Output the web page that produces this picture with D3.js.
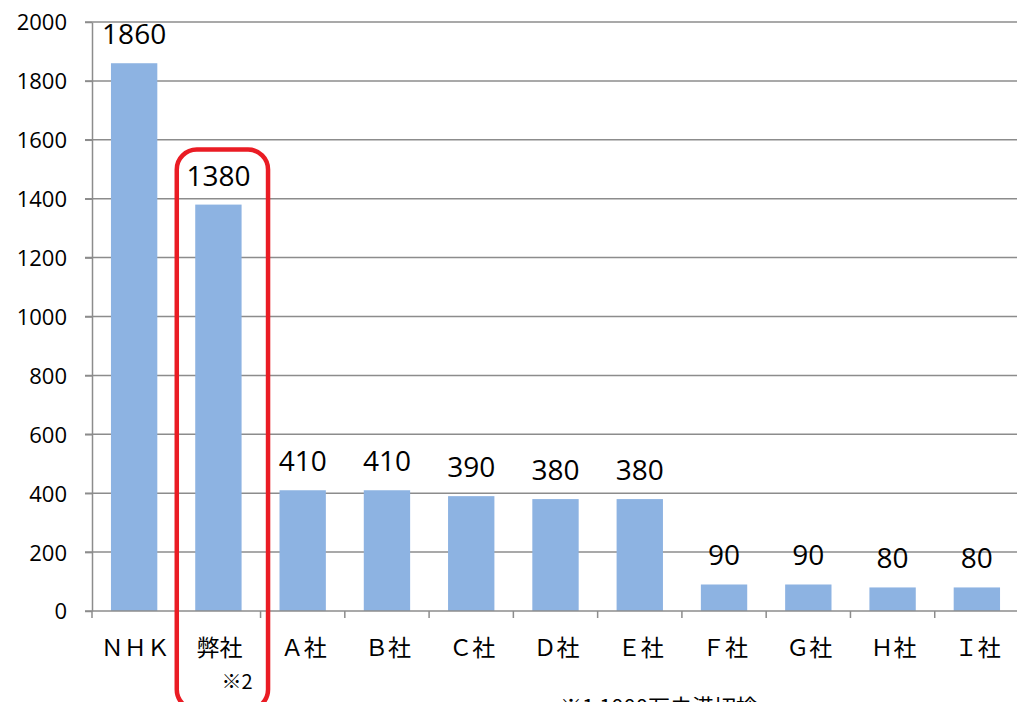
<!DOCTYPE html>
<html>
<head>
<meta charset="utf-8">
<script src="https://cdn.jsdelivr.net/npm/d3@7"></script>
<style>
  body { margin: 0; background: #fff; overflow: hidden; }
  svg { display: block; }
</style>
</head>
<body>
<script>
"use strict";

let width = 1017;
let height = 702;

// data
let companies = ["ＮＨＫ", "弊社", "Ａ社", "Ｂ社", "Ｃ社", "Ｄ社", "Ｅ社", "Ｆ社", "Ｇ社", "Ｈ社", "Ｉ社"];
let values = [1860, 1380, 410, 410, 390, 380, 380, 90, 90, 80, 80];
let yTicks = [0, 200, 400, 600, 800, 1000, 1200, 1400, 1600, 1800, 2000];
let highlight = "弊社";
let highlightNote = "※2";
let footNote = "※1  1000万未満切捨";

let margin = { left: 92, top: 22, bottom: 91 };
let plotRight = 1019;

let svg = d3.select("body").append("svg").attr("width", width).attr("height", height);

let x = d3.scaleBand()
  .domain(companies)
  .range([margin.left, plotRight])
  .paddingInner(0.45)
  .paddingOuter(0.225);

let xEdge = d3.scaleBand()
  .domain(companies)
  .range([margin.left, plotRight]);

let y = d3.scaleLinear()
  .domain([0, 2000])
  .range([height - margin.bottom, margin.top]);

let grey = "#8c8c8c";

// gridlines
svg.append("g")
  .selectAll("line")
  .data(yTicks.filter(d => d > 0))
  .enter()
  .append("line")
  .attr("x1", margin.left - 7)
  .attr("x2", width)
  .attr("y1", d => y(d))
  .attr("y2", d => y(d))
  .attr("stroke", grey)
  .attr("stroke-width", 1.5);

// y axis
let yAxis = svg.append("g")
  .attr("transform", "translate(" + margin.left + ",0)")
  .call(d3.axisLeft(y).tickValues(yTicks).tickFormat(d3.format("d"))
    .tickSize(7).tickPadding(18).tickSizeOuter(0));
yAxis.select(".domain").attr("stroke", grey).attr("stroke-width", 1.5);
yAxis.selectAll(".tick line").attr("stroke", grey).attr("stroke-width", 1.5);
yAxis.selectAll("text")
  .attr("fill", "#000")
  .style("font-family", "'Open Sans', sans-serif")
  .style("font-size", "22px")
  .attr("dy", "0.36em");

// bars
svg.append("g")
  .selectAll("rect")
  .data(values)
  .enter()
  .append("rect")
  .attr("x", (d, i) => x(companies[i]))
  .attr("width", x.bandwidth())
  .attr("y", d => y(d))
  .attr("height", d => y(0) - y(d))
  .attr("fill", "#8db3e2");

// x axis baseline and ticks at category edges
let baseY = y(0);
svg.append("line")
  .attr("x1", margin.left - 7).attr("x2", width)
  .attr("y1", baseY).attr("y2", baseY)
  .attr("stroke", grey).attr("stroke-width", 1.5);

let edges = companies.map(c => xEdge(c));
svg.append("g")
  .selectAll("line")
  .data(edges)
  .enter()
  .append("line")
  .attr("x1", d => d).attr("x2", d => d)
  .attr("y1", baseY).attr("y2", baseY + 7)
  .attr("stroke", grey).attr("stroke-width", 1.5);

// category labels
svg.append("g")
  .selectAll("text")
  .data(companies)
  .enter()
  .append("text")
  .attr("x", d => xEdge(d) + xEdge.bandwidth() / 2 + 1)
  .attr("y", 656)
  .attr("text-anchor", "middle")
  .style("font-family", "'Noto Sans CJK JP', sans-serif")
  .style("font-size", "23px")
  .text(d => d);

// value labels
svg.append("g")
  .selectAll("text")
  .data(values)
  .enter()
  .append("text")
  .attr("x", (d, i) => x(companies[i]) + x.bandwidth() / 2)
  .attr("y", d => y(d) - 19)
  .attr("text-anchor", "middle")
  .style("font-family", "'Open Sans', sans-serif")
  .style("font-size", "28px")
  .text(d => d);

// highlight box
let hx = xEdge(highlight);
svg.append("rect")
  .attr("x", hx + 0.5)
  .attr("y", y(1380) - 55)
  .attr("width", xEdge.bandwidth() + 7)
  .attr("height", 560)
  .attr("rx", 20)
  .attr("fill", "none")
  .attr("stroke", "#ea1c24")
  .attr("stroke-width", 4.5);

svg.append("text")
  .attr("x", hx + xEdge.bandwidth() / 2 + 3)
  .attr("y", 689)
  .attr("text-anchor", "start")
  .style("font-family", "'Noto Sans CJK JP', sans-serif")
  .style("font-size", "20px")
  .text(highlightNote);

// footnote (cut by the bottom edge, as in the original)
svg.append("text")
  .attr("x", 560)
  .attr("y", 715)
  .style("font-family", "'Noto Sans CJK JP', sans-serif")
  .style("font-size", "22px")
  .text(footNote);
</script>
</body>
</html>
